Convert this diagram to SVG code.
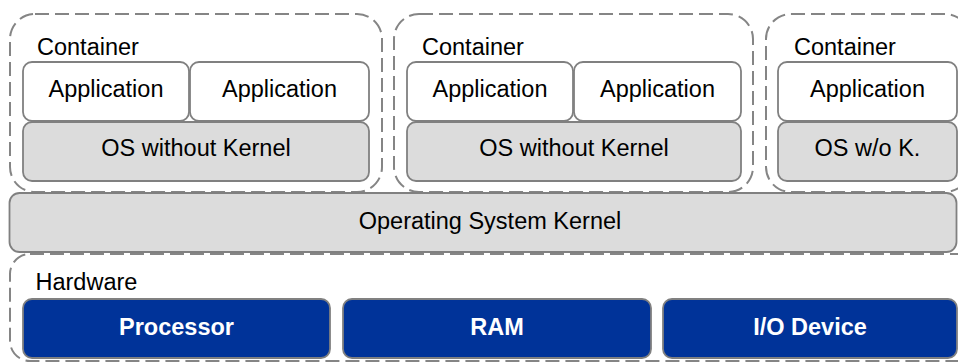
<svg xmlns="http://www.w3.org/2000/svg" width="958" height="363" viewBox="0 0 958 363">
  <style>
    .dash { fill: none; stroke: #858585; stroke-width: 2; stroke-dasharray: 14 6; }
    .app { fill: #ffffff; stroke: #808080; stroke-width: 1.8; }
    .os { fill: #dcdcdc; stroke: #808080; stroke-width: 1.8; }
    .hw { fill: #003399; stroke: #808080; stroke-width: 1.8; }
    text { font-family: "Liberation Sans", Arial, sans-serif; font-size: 23.5px; fill: #000000; }
    .c { text-anchor: middle; }
    .b { font-weight: bold; fill: #ffffff; }
  </style>
  <rect width="958" height="363" fill="#ffffff"/>

  <!-- container 1 -->
  <g id="container1">
    <rect class="dash" x="10" y="14" width="372" height="178" rx="25"/>
    <text x="37" y="55">Container</text>
  </g>
  <g id="app1a">
    <rect class="app" x="23" y="62" width="166" height="59" rx="9"/>
    <text class="c" x="106" y="97">Application</text>
  </g>
  <g id="app1b">
    <rect class="app" x="190" y="62" width="179" height="59" rx="9"/>
    <text class="c" x="279.5" y="97">Application</text>
  </g>
  <g id="os1">
    <rect class="os" x="23" y="122" width="346" height="59" rx="9"/>
    <text class="c" x="196" y="156">OS without Kernel</text>
  </g>

  <!-- container 2 -->
  <g id="container2">
    <rect class="dash" x="394" y="14" width="359" height="178" rx="25"/>
    <text x="422" y="55">Container</text>
  </g>
  <g id="app2a">
    <rect class="app" x="407" y="62" width="166" height="59" rx="9"/>
    <text class="c" x="490" y="97">Application</text>
  </g>
  <g id="app2b">
    <rect class="app" x="574" y="62" width="167" height="59" rx="9"/>
    <text class="c" x="657.5" y="97">Application</text>
  </g>
  <g id="os2">
    <rect class="os" x="407" y="122" width="334" height="59" rx="9"/>
    <text class="c" x="574" y="156">OS without Kernel</text>
  </g>

  <!-- container 3 -->
  <g id="container3">
    <rect class="dash" x="766" y="14" width="204" height="178" rx="25"/>
    <text x="794" y="55">Container</text>
  </g>
  <g id="app3">
    <rect class="app" x="778" y="62" width="179" height="59" rx="9"/>
    <text class="c" x="867.5" y="97">Application</text>
  </g>
  <g id="os3">
    <rect class="os" x="778" y="122" width="179" height="59" rx="9"/>
    <text class="c" x="867.5" y="156">OS w/o K.</text>
  </g>

  <!-- kernel -->
  <g id="kernel">
    <rect class="os" x="9.5" y="193" width="947" height="59" rx="10"/>
    <text class="c" x="490" y="228.5">Operating System Kernel</text>
  </g>

  <!-- hardware -->
  <g id="hardware">
    <rect class="dash" x="10" y="254" width="970" height="107" rx="20"/>
    <text x="35.5" y="290">Hardware</text>
  </g>
  <g id="processor">
    <rect class="hw" x="23" y="299" width="307" height="59" rx="9"/>
    <text class="c b" x="176.5" y="335">Processor</text>
  </g>
  <g id="ram">
    <rect class="hw" x="343" y="299" width="308" height="59" rx="9"/>
    <text class="c b" x="497" y="335">RAM</text>
  </g>
  <g id="io">
    <rect class="hw" x="663" y="299" width="294" height="59" rx="9"/>
    <text class="c b" x="810" y="335">I/O Device</text>
  </g>

  <g id="connectors"/>
</svg>
